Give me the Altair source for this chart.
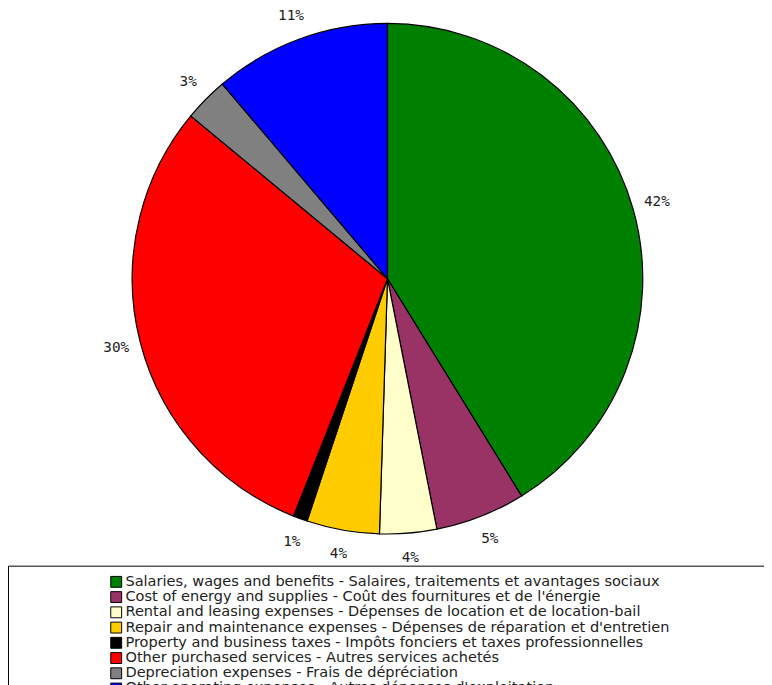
import altair as alt
import pandas as pd

categories = [
    "Salaries, wages and benefits - Salaires, traitements et avantages sociaux",
    "Cost of energy and supplies - Coût des fournitures et de l'énergie",
    "Rental and leasing expenses - Dépenses de location et de location-bail",
    "Repair and maintenance expenses - Dépenses de réparation et d'entretien",
    "Property and business taxes - Impôts fonciers et taxes professionnelles",
    "Other purchased services - Autres services achetés",
    "Depreciation expenses - Frais de dépréciation",
    "Other operating expenses - Autres dépenses d'exploitation",
]
values = [41.2, 5.7, 3.6, 4.6, 0.9, 30.0, 2.8, 11.2]
pct_labels = ["42%", "5%", "4%", "4%", "1%", "30%", "3%", "11%"]
colors = ["#008000", "#993366", "#FFFFCC", "#FFCC00", "#000000", "#FF0000", "#808080", "#0000FF"]

df = pd.DataFrame({
    "category": categories,
    "value": values,
    "label": pct_labels,
    "order": list(range(len(categories))),
})

W, H = 764, 677
CX, CY = 383.5, 270
R = 258

base = alt.Chart(df).encode(
    theta=alt.Theta("value:Q", stack=True),
    order=alt.Order("order:Q"),
)

color = alt.Color(
    "category:N",
    scale=alt.Scale(domain=categories, range=colors),
    sort=categories,
    legend=alt.Legend(
        orient="none",
        legendX=102,
        legendY=569,
        title=None,
        symbolType="square",
        symbolSize=121,
        symbolStrokeColor="black",
        symbolStrokeWidth=1,
        labelFont="DejaVu Sans",
        labelFontSize=14.7,
        labelColor="#222",
        labelLimit=800,
        labelOffset=2,
        rowPadding=-0.6,
        padding=0,
    ),
)

arcs = base.mark_arc(outerRadius=R, stroke="black", strokeWidth=1.2).encode(
    color=color,
    x=alt.value(CX),
    y=alt.value(CY),
)

texts = base.mark_text(
    radius=283, font="DejaVu Sans Mono", fontSize=14.5, color="#222"
).encode(
    text="label:N",
    x=alt.value(CX),
    y=alt.value(CY),
)

box = alt.Chart(pd.DataFrame({"a": [0]})).mark_rect(
    fill="white", fillOpacity=0, stroke="black", strokeWidth=1
).encode(
    x=alt.value(0.5), x2=alt.value(W + 5), y=alt.value(560.5), y2=alt.value(H + 20)
)

chart = alt.layer(box, arcs, texts).properties(
    width=W, height=H, padding=0, autosize=alt.AutoSizeParams(type="none")
).configure_view(stroke=None)

chart.save("out.html", embed_options={"renderer": "svg", "actions": False})
